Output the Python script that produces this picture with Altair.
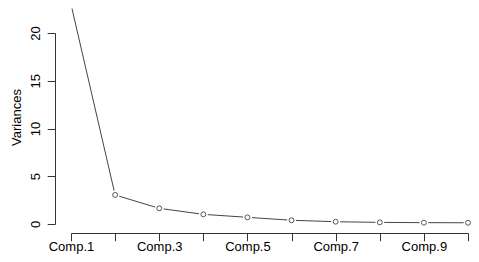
import altair as alt
import pandas as pd

components = ["Comp.1", "Comp.2", "Comp.3", "Comp.4", "Comp.5",
              "Comp.6", "Comp.7", "Comp.8", "Comp.9", "Comp.10"]
index = [1, 2, 3, 4, 5, 6, 7, 8, 9, 10]
variances = [23.0, 3.04, 1.64, 1.01, 0.70, 0.39, 0.24, 0.17, 0.14, 0.13]
y_ticks = [0, 5, 10, 15, 20]
shown_labels = [1, 3, 5, 7, 9]

df = pd.DataFrame({"idx": index, "comp": components, "var": variances})

FONT = "Liberation Sans"
INK = "#333333"

x_enc = alt.X(
    "idx:Q",
    scale=alt.Scale(domain=[1, 10], nice=False, zero=False),
    axis=alt.Axis(
        values=index,
        labelExpr="indexof([" + ",".join(str(v) for v in shown_labels) + "], datum.value) >= 0 ? 'Comp.' + datum.value : ''",
        title=None,
        grid=False,
        offset=9,
        tickSize=7.8,
        labelPadding=9.5,
        labelBaseline="alphabetic",
        labelFont=FONT,
        labelFontSize=13,
        labelColor="black",
        domainColor=INK,
        tickColor=INK,
        labelOverlap=False,
        labelFlush=False,
    ),
)
y_enc = alt.Y(
    "var:Q",
    scale=alt.Scale(domain=[0, 20], range=[216, 25], nice=False, zero=False),
    axis=alt.Axis(
        values=y_ticks,
        title="Variances",
        titleFont=FONT,
        titleFontSize=13,
        titleFontWeight="normal",
        titleColor="black",
        titleAngle=270,
        titleAlign="center",
        titleBaseline="alphabetic",
        titleX=-35,
        titleY=109,
        grid=False,
        offset=16,
        tickSize=7.8,
        labelAngle=270,
        labelAlign="center",
        labelBaseline="alphabetic",
        labelPadding=7.8,
        labelFont=FONT,
        labelFontSize=13,
        labelColor="black",
        domainColor=INK,
        tickColor=INK,
    ),
)

base = alt.Chart(df).encode(x=x_enc, y=y_enc)
line = base.mark_line(color="#444444", strokeWidth=1)
gap = base.mark_point(shape="circle", filled=True, color="white", size=78, opacity=1)
pts = base.mark_point(shape="circle", filled=False, color="#555555", size=24, strokeWidth=1, opacity=1)

chart = alt.layer(line, gap, pts).properties(
    width=397,
    height=216,
    padding={"left": 63, "top": 0, "right": 3, "bottom": 30},
    autosize=alt.AutoSizeParams(type="none"),
).configure_view(stroke=None)

chart.save("out.html", embed_options={"renderer": "svg", "actions": False})
